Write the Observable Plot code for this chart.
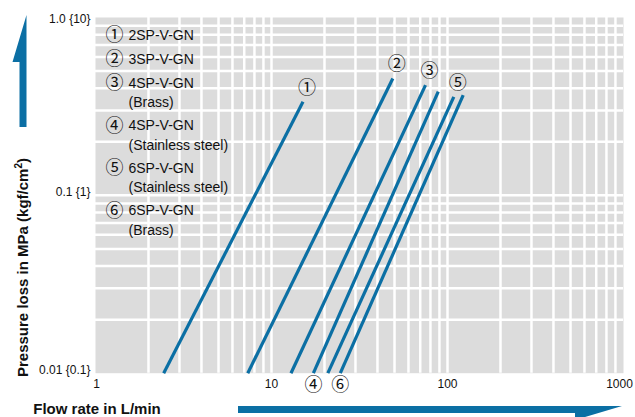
<!DOCTYPE html>
<html><head><meta charset="utf-8">
<script src="https://cdn.jsdelivr.net/npm/d3@7"></script>
<script src="https://cdn.jsdelivr.net/npm/@observablehq/plot@0.6"></script>
<style>
body{margin:0;background:#fff;}
#chart{width:635px;height:417px;overflow:hidden;}
svg{font-family:"Liberation Sans",Arial,sans-serif;}
</style>
</head><body><div id="chart"></div>
<script>
// ---- data ----
const markers   = ["①","②","③","④","⑤","⑥"];
const models    = ["2SP-V-GN","3SP-V-GN","4SP-V-GN","4SP-V-GN","6SP-V-GN","6SP-V-GN"];
const materials = ["","","(Brass)","(Stainless steel)","(Stainless steel)","(Brass)"];
const flowLow   = [2.44, 7.33, 12.9, 17.3, 20.9, 24.6];   // L/min at low end
const lossLow   = [0.01, 0.01, 0.01, 0.01, 0.01, 0.01];   // MPa
const flowHigh  = [15.1, 48.9, 75.0, 88.6, 108.6, 122.8];
const lossHigh  = [0.336, 0.454, 0.417, 0.383, 0.358, 0.366];
const labelEnd  = ["top","top","top","bottom","top","bottom"];
const xTicks = [1, 10, 100, 1000];
const xTickLabels = ["1", "10", "100", "1000"];
const yTicks = [0.01, 0.1, 1];
const yTickLabels = ["0.01 {0.1}", "0.1 {1}", "1.0 {10}"];
const xGrid = [2,3,4,5,6,7,8,9,10,20,30,40,50,60,70,80,90,100,200,300,400,500,600,700,800,900];
const yGrid = [0.02,0.03,0.04,0.05,0.06,0.07,0.08,0.09,0.1,0.2,0.3,0.4,0.5,0.6,0.7,0.8,0.9];

const BLUE = "#0b6fa4";
const segs = markers.map((m, i) => ({id: m, x1: flowLow[i], y1: lossLow[i], x2: flowHigh[i], y2: lossHigh[i], end: labelEnd[i]}));

// legend rows
const legendRows = [];
let ry = 35;
markers.forEach((m, i) => {
  legendRows.push({mark: m, text: models[i], y: ry});
  if (materials[i]) { ry += 19.5; legendRows.push({mark: "", text: materials[i], y: ry}); ry += 23; }
  else ry += 24;
});
const MT = 17;
const legendMarks = legendRows.flatMap(r => [
  Plot.text([r], {text: "text", frameAnchor: "top-left", dx: 33, dy: r.y - MT, lineAnchor: "middle", textAnchor: "start", fontSize: 14, fill: "#111"}),
  ...(r.mark ? [Plot.text([r], {text: "mark", frameAnchor: "top-left", dx: 19, dy: r.y - MT, lineAnchor: "middle", textAnchor: "middle", fontSize: 18, fill: "#111", fontFamily: "Noto Sans CJK JP"})] : [])
]);

const xTickShift = [1, 0, 0, -4];
const yTickShift = [-3.5, -3.5, 2];
const xTickMarks = xTicks.map((t, i) => Plot.text([t], {x: d => d, text: () => xTickLabels[i], frameAnchor: "bottom", dx: xTickShift[i], dy: 11, lineAnchor: "middle", fontSize: 12, fill: "#111"}));
const yTickMarks = yTicks.map((t, i) => Plot.text([t], {y: d => d, text: () => yTickLabels[i], frameAnchor: "left", dx: -5, dy: yTickShift[i], textAnchor: "end", lineAnchor: "middle", fontSize: 12, fill: "#111"}));

const chart = Plot.plot({
  width: 635, height: 417,
  marginLeft: 95, marginRight: 12, marginTop: MT, marginBottom: 44.3,
  x: {type: "log", domain: [1, 1000], axis: null},
  y: {type: "log", domain: [0.01, 1], axis: null},
  marks: [
    Plot.frame({fill: "#dcdcdc", stroke: null}),
    Plot.ruleX(xGrid, {stroke: "white", strokeWidth: 2.5}),
    Plot.ruleY(yGrid, {stroke: "white", strokeWidth: 2.5}),
    Plot.link(segs, {x1: "x1", y1: "y1", x2: "x2", y2: "y2", stroke: BLUE, strokeWidth: 3.2, strokeLinecap: "butt"}),
    Plot.text(segs.filter(d => d.end === "top"), {x: "x2", y: "y2", text: "id", dx: 4, dy: -14, fontSize: 18, fill: "#111", fontFamily: "Noto Sans CJK JP"}),
    Plot.text(segs.filter(d => d.end === "bottom"), {x: "x1", y: "y1", text: "id", dx: 0, dy: 12, fontSize: 18, fill: "#111", fontFamily: "Noto Sans CJK JP"}),
    ...xTickMarks,
    ...yTickMarks,
    ...legendMarks
  ]
});
document.getElementById("chart").appendChild(chart);

// axis titles and arrows
const svg = d3.select(chart);
svg.append("path").attr("d", "M26.5,15 L26.5,127 L19.5,127 L19.5,62 L12.5,62 Z").attr("fill", BLUE);
svg.append("path").attr("d", "M238,406 L622,406 L575,420 L575,413 L238,413 Z").attr("fill", BLUE);
const yt = svg.append("text").attr("transform", "translate(27.5,377) rotate(-90)")
  .attr("font-size", 15).attr("font-weight", "bold").attr("fill", "#111").attr("text-anchor", "start");
yt.append("tspan").text("Pressure loss in MPa (kgf/cm");
yt.append("tspan").attr("font-size", 10).attr("dy", -6).text("2");
yt.append("tspan").attr("dy", 6).text(")");
svg.append("text").attr("x", 97).attr("y", 414).attr("font-size", 15).attr("font-weight", "bold")
  .attr("fill", "#111").text("Flow rate in L/min");
</script>
</body></html>
